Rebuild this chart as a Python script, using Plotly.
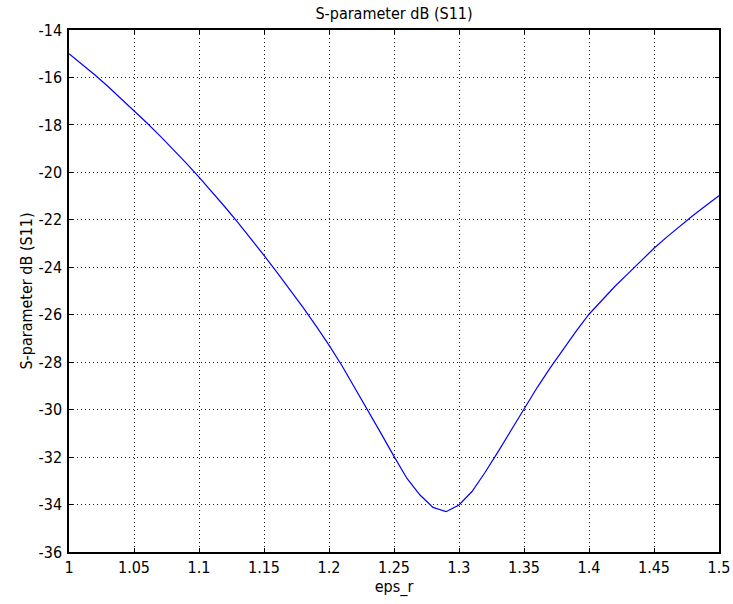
import plotly.graph_objects as go

eps_r = [1.00, 1.01, 1.02, 1.03, 1.04, 1.05, 1.06, 1.07, 1.08, 1.09,
         1.10, 1.11, 1.12, 1.13, 1.14, 1.15, 1.16, 1.17, 1.18, 1.19,
         1.20, 1.21, 1.22, 1.23, 1.24, 1.25, 1.26, 1.27, 1.28, 1.29,
         1.30, 1.31, 1.32, 1.33, 1.34, 1.35, 1.36, 1.37, 1.38, 1.39,
         1.40, 1.41, 1.42, 1.43, 1.44, 1.45, 1.46, 1.47, 1.48, 1.49, 1.50]
s11_db = [-15.0, -15.44, -15.9, -16.38, -16.88, -17.4, -17.92, -18.46, -19.02, -19.6,
          -20.2, -20.82, -21.46, -22.12, -22.8, -23.5, -24.21, -24.94, -25.69, -26.47,
          -27.28, -28.15, -29.08, -30.03, -31.0, -31.97, -32.9, -33.6, -34.12, -34.3,
          -34.02, -33.45, -32.65, -31.78, -30.88, -29.97, -29.08, -28.25, -27.45, -26.7,
          -25.98, -25.37, -24.8, -24.27, -23.73, -23.2, -22.72, -22.26, -21.82, -21.4, -20.98]

x_ticks = [1, 1.05, 1.1, 1.15, 1.2, 1.25, 1.3, 1.35, 1.4, 1.45, 1.5]
x_tick_labels = ["1", "1.05", "1.1", "1.15", "1.2", "1.25", "1.3", "1.35", "1.4", "1.45", "1.5"]
y_ticks = [-36, -34, -32, -30, -28, -26, -24, -22, -20, -18, -16, -14]
y_tick_labels = ["-36", "-34", "-32", "-30", "-28", "-26", "-24", "-22", "-20", "-18", "-16", "-14"]

FONT = "DejaVu Sans Condensed, DejaVu Sans, sans-serif"
FS = 16
W, H = 733, 604

fig = go.Figure()
fig.add_trace(go.Scatter(x=eps_r, y=s11_db, mode="lines",
                         line=dict(color="#0000ff", width=1.2),
                         showlegend=False, hoverinfo="x+y"))

axis_common = dict(
    showline=True, linecolor="black", linewidth=1.5, mirror="allticks",
    ticks="inside", ticklen=4, tickcolor="black",
    showgrid=True, gridcolor="#222222", gridwidth=1, griddash="1px,3px",
    zeroline=False, automargin=False,
    tickfont=dict(family=FONT, size=FS, color="black"),
)

fig.update_xaxes(range=[1, 1.5], tickvals=x_ticks, ticktext=x_tick_labels,
                 ticklabelstandoff=0,
                 title=dict(text="eps_r", font=dict(family=FONT, size=FS, color="black"), standoff=0),
                 **axis_common)
fig.update_yaxes(range=[-36, -14], tickvals=y_ticks, ticktext=y_tick_labels,
                 ticklabelstandoff=2,
                 title=dict(text="S-parameter dB (S11)", font=dict(family=FONT, size=FS, color="black"), standoff=2),
                 **axis_common)

fig.update_layout(
    width=W, height=H,
    margin=dict(l=69, r=14, t=30, b=52),
    paper_bgcolor="white", plot_bgcolor="white",
    title=dict(text="S-parameter dB (S11)", xref="paper", x=0.5, xanchor="center",
               yref="container", y=1 - 13 / H, yanchor="middle",
               font=dict(family=FONT, size=FS, color="black")),
    font=dict(family=FONT, size=FS, color="black"),
)

fig.write_html("out.html", config={"displayModeBar": False},
               post_script="document.body.style.margin='0px';")
